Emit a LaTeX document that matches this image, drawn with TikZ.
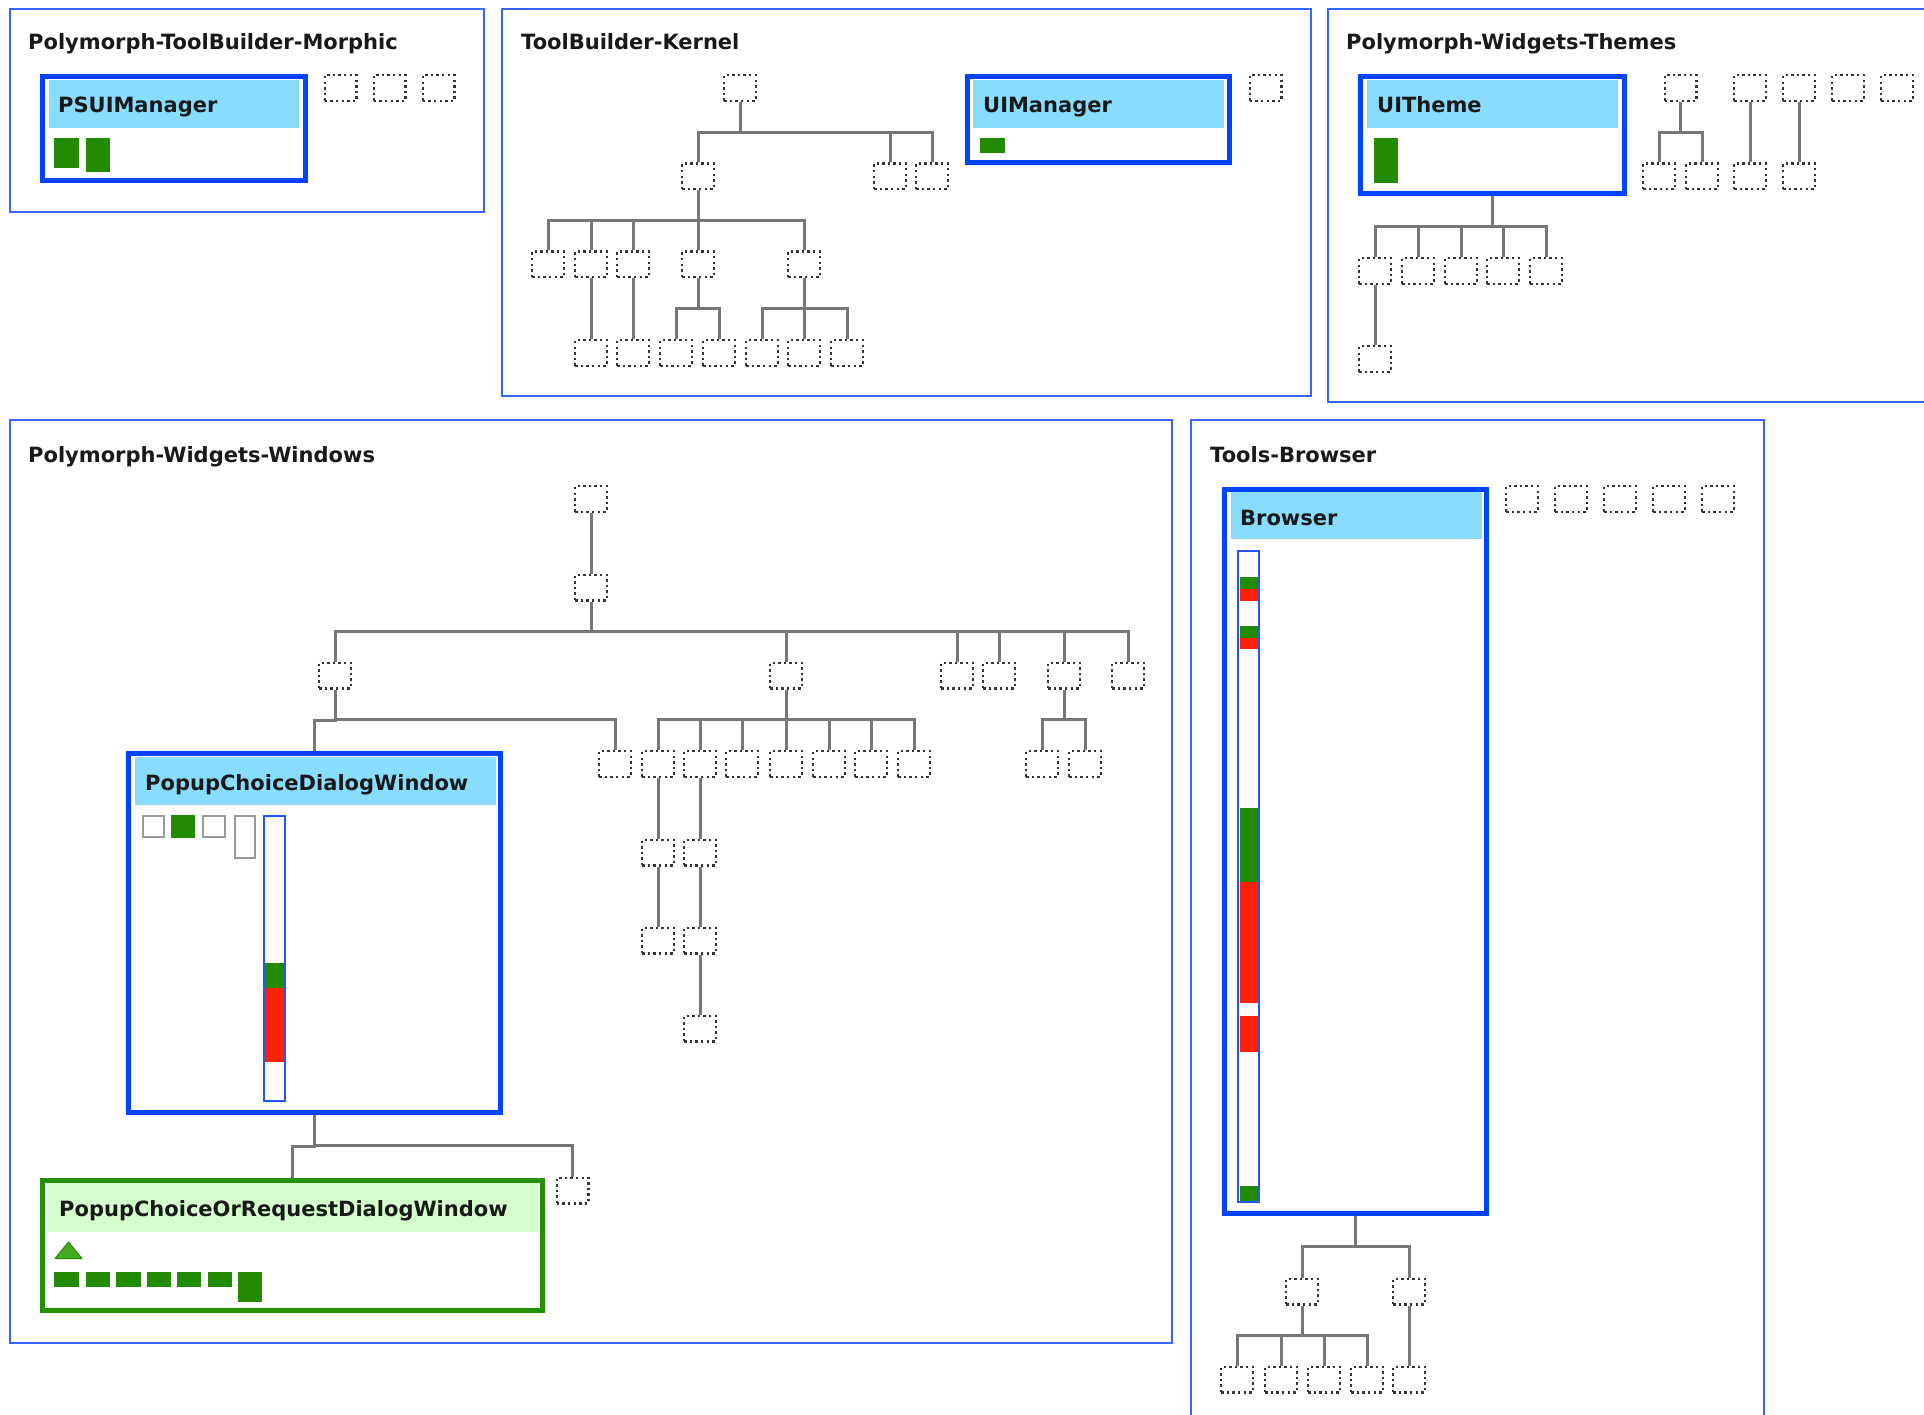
\documentclass[tikz,border=0pt]{standalone}
\usepackage{fontspec}
\newfontfamily\lblfont{DejaVu Sans}
\usetikzlibrary{calc}
\definecolor{pkgblue}{HTML}{3366FF}
\definecolor{clsblue}{HTML}{0044FF}
\definecolor{hdrblue}{HTML}{88DDFF}
\definecolor{grn}{HTML}{228B00}
\definecolor{rd}{HTML}{FF2200}
\definecolor{hdrgreen}{HTML}{D4FFCC}
\definecolor{grnbord}{HTML}{239100}
\definecolor{trifill}{HTML}{44AA22}
\definecolor{treegray}{HTML}{777777}
\definecolor{dotgray}{HTML}{333333}
\definecolor{boxgray}{HTML}{9A9A9A}
\definecolor{sbblue}{HTML}{2255FF}
\newcommand\tconn[2]{\draw[tree] (#1.south) to[orth] (#2.north);}
\begin{document}
\begin{tikzpicture}[x=1pt,y=-1pt,
  pkg/.style={draw=pkgblue,line width=2.5pt},
  cls/.style={draw=clsblue,line width=5pt,fill=white,inner sep=0pt},
  gcls/.style={draw=grnbord,line width=5pt,fill=white,inner sep=0pt},
  lbl/.style={font=\lblfont\bfseries\fontsize{21}{25}\selectfont,text=black!90,inner sep=0pt},
  dsq/.style={draw=dotgray,line width=2.4pt,dash pattern=on 2.4pt off 3.2pt,minimum width=31.6pt,minimum height=25.6pt,inner sep=0pt},
  tree/.style={draw=treegray,line width=3pt},
  orth/.style={to path={(\tikztostart) |- ($(\tikztostart)!0.5!(\tikztotarget)$) -| (\tikztotarget)}},
  gbox/.style={draw=boxgray,line width=2pt,fill=white},
  sbar/.style={draw=sbblue,line width=2pt,fill=white}
]
\useasboundingbox (0,0) rectangle (1924,1415);
\fill[white] (0,0) rectangle (1924,1415);

% ---------- containers ----------
\draw[pkg] (10,9) rectangle (484,212);
\draw[pkg] (502,9) rectangle (1311,396);
\draw[pkg] (1328,9) rectangle (1940,402);
\draw[pkg] (10,420) rectangle (1172,1343);
\draw[pkg] (1191,420) rectangle (1764,1440);

\node[lbl,anchor=base west] (t1) at (28,50) {Polymorph-ToolBuilder-Morphic};
\node[lbl,anchor=base west] (t2) at (521,50) {ToolBuilder-Kernel};
\node[lbl,anchor=base west] (t3) at (1346,50) {Polymorph-Widgets-Themes};
\node[lbl,anchor=base west] (t4) at (28,462) {Polymorph-Widgets-Windows};
\node[lbl,anchor=base west] (t5) at (1210,462) {Tools-Browser};

% ---------- Polymorph-ToolBuilder-Morphic ----------
\node[cls,minimum width=263pt,minimum height=104pt] (psui) at (174,128.5) {};
\fill[hdrblue] (49,80) rectangle (299,128);
\node[lbl,anchor=base west] (psuiT) at (58,113) {PSUIManager};
\fill[grn] (54,138) rectangle (79,168);
\fill[grn] (86,138) rectangle (110,172);
\node[dsq] (m1) at (340.5,88) {};
\node[dsq] (m2) at (389.5,88) {};
\node[dsq] (m3) at (438.5,88) {};

% ---------- ToolBuilder-Kernel ----------
\node[dsq] (k0) at (740,88) {};
\node[dsq] (k1) at (698,176.5) {};
\node[dsq] (k2) at (890,176.5) {};
\node[dsq] (k3) at (932,176.5) {};
\node[dsq] (d1) at (548,264.5) {};
\node[dsq] (d2) at (591,264.5) {};
\node[dsq] (d3) at (633,264.5) {};
\node[dsq] (d4) at (698,264.5) {};
\node[dsq] (d5) at (804,264.5) {};
\node[dsq] (e1) at (591,353) {};
\node[dsq] (e2) at (633,353) {};
\node[dsq] (e3) at (676,353) {};
\node[dsq] (e4) at (719,353) {};
\node[dsq] (e5) at (762,353) {};
\node[dsq] (e6) at (804,353) {};
\node[dsq] (e7) at (847,353) {};
\node[dsq] (k4) at (1265.5,88) {};
\tconn{k0}{k1}\tconn{k0}{k2}\tconn{k0}{k3}
\tconn{k1}{d1}\tconn{k1}{d2}\tconn{k1}{d3}\tconn{k1}{d4}\tconn{k1}{d5}
\tconn{d2}{e1}\tconn{d3}{e2}
\tconn{d4}{e3}\tconn{d4}{e4}
\tconn{d5}{e5}\tconn{d5}{e6}\tconn{d5}{e7}

\node[cls,minimum width=262pt,minimum height=86pt] (uim) at (1098.5,119.5) {};
\fill[hdrblue] (973,80) rectangle (1224,128);
\node[lbl,anchor=base west] (uimT) at (983,113) {UIManager};
\fill[grn] (980,138) rectangle (1005,153);

% ---------- Polymorph-Widgets-Themes ----------
\node[cls,minimum width=264pt,minimum height=117pt] (uit) at (1492.5,135) {};
\fill[hdrblue] (1367,80) rectangle (1618,128);
\node[lbl,anchor=base west] (uitT) at (1377,113) {UITheme};
\fill[grn] (1374,138) rectangle (1398,183);
\node[dsq] (u1) at (1375,271) {};
\node[dsq] (u2) at (1418,271) {};
\node[dsq] (u3) at (1461,271) {};
\node[dsq] (u4) at (1503,271) {};
\node[dsq] (u5) at (1546,271) {};
\node[dsq] (u6) at (1375,359) {};
\tconn{uit}{u1}\tconn{uit}{u2}\tconn{uit}{u3}\tconn{uit}{u4}\tconn{uit}{u5}
\tconn{u1}{u6}
\node[dsq] (s1) at (1680.5,88) {};
\node[dsq] (s1a) at (1659,176.5) {};
\node[dsq] (s1b) at (1702,176.5) {};
\node[dsq] (s2) at (1750,88) {};
\node[dsq] (s2a) at (1750,176.5) {};
\node[dsq] (s3) at (1799,88) {};
\node[dsq] (s3a) at (1799,176.5) {};
\node[dsq] (s4) at (1848,88) {};
\node[dsq] (s5) at (1897,88) {};
\tconn{s1}{s1a}\tconn{s1}{s1b}\tconn{s2}{s2a}\tconn{s3}{s3a}

% ---------- Polymorph-Widgets-Windows ----------
\node[dsq] (p0) at (591,499) {};
\node[dsq] (p1) at (591,587.5) {};
\node[dsq] (w1) at (335,675.5) {};
\node[dsq] (w2) at (786,675.5) {};
\node[dsq] (w3) at (957,675.5) {};
\node[dsq] (w4) at (999,675.5) {};
\node[dsq] (w5) at (1064,675.5) {};
\node[dsq] (w6) at (1128,675.5) {};
\tconn{p0}{p1}
\tconn{p1}{w1}\tconn{p1}{w2}\tconn{p1}{w3}\tconn{p1}{w4}\tconn{p1}{w5}\tconn{p1}{w6}
\node[dsq] (x1) at (615,764) {};
\node[dsq] (y1) at (658,764) {};
\node[dsq] (y2) at (700,764) {};
\node[dsq] (y3) at (742,764) {};
\node[dsq] (y4) at (786,764) {};
\node[dsq] (y5) at (829,764) {};
\node[dsq] (y6) at (871,764) {};
\node[dsq] (y7) at (914,764) {};
\node[dsq] (z1) at (1042,764) {};
\node[dsq] (z2) at (1085,764) {};
\node[dsq] (y1a) at (658,852.5) {};
\node[dsq] (y1b) at (658,940.5) {};
\node[dsq] (y2a) at (700,852.5) {};
\node[dsq] (y2b) at (700,940.5) {};
\node[dsq] (y2c) at (700,1028.5) {};
\tconn{w2}{y1}\tconn{w2}{y2}\tconn{w2}{y3}\tconn{w2}{y4}\tconn{w2}{y5}\tconn{w2}{y6}\tconn{w2}{y7}
\tconn{w5}{z1}\tconn{w5}{z2}
\tconn{y1}{y1a}\tconn{y1a}{y1b}
\tconn{y2}{y2a}\tconn{y2a}{y2b}\tconn{y2b}{y2c}

\node[cls,minimum width=372pt,minimum height=359pt] (pcd) at (314.5,933) {};
\fill[hdrblue] (135,757) rectangle (496,805);
\node[lbl,anchor=base west] (pcdT) at (145,790) {PopupChoiceDialogWindow};
\draw[gbox] (143,816) rectangle (164,837);
\fill[grn] (171,815) rectangle (195,838);
\draw[gbox] (203,816) rectangle (225,837);
\draw[gbox] (235,816) rectangle (255,858);
\draw[sbar] (264,816) rectangle (285,1101);
\fill[grn] (265,963) rectangle (284,988);
\fill[rd] (265,988) rectangle (284,1062);
\tconn{w1}{pcd}\tconn{w1}{x1}

\node[gcls,minimum width=500pt,minimum height=130pt] (pcor) at (292.5,1245.5) {};
\fill[hdrgreen] (48,1183) rectangle (538,1232);
\node[lbl,anchor=base west] (pcorT) at (59,1216) {PopupChoiceOrRequestDialogWindow};
\filldraw[fill=trifill,draw=grn,line width=1pt,line join=round] (55,1258.5) -- (82,1258.5) -- (68.5,1242) -- cycle;
\fill[grn] (54,1272) rectangle (79,1287);
\fill[grn] (86,1272) rectangle (110,1287);
\fill[grn] (116,1272) rectangle (141,1287);
\fill[grn] (147,1272) rectangle (171,1287);
\fill[grn] (177,1272) rectangle (201,1287);
\fill[grn] (208,1272) rectangle (232,1287);
\fill[grn] (238,1272) rectangle (262,1302);
\node[dsq] (x4) at (572.5,1190.5) {};
\tconn{pcd}{pcor}\tconn{pcd}{x4}

% ---------- Tools-Browser ----------
\node[cls,minimum width=262pt,minimum height=724pt] (brw) at (1355.5,851.5) {};
\fill[hdrblue] (1231,492) rectangle (1482,539);
\node[lbl,anchor=base west] (brwT) at (1240,525) {Browser};
\draw[sbar] (1238,551) rectangle (1259,1202);
\fill[grn] (1239.5,577) rectangle (1257.5,589);
\fill[rd] (1239.5,589) rectangle (1257.5,601);
\fill[grn] (1239.5,626) rectangle (1257.5,638);
\fill[rd] (1239.5,638) rectangle (1257.5,649);
\fill[grn] (1239.5,808) rectangle (1257.5,882);
\fill[rd] (1239.5,882) rectangle (1257.5,1003);
\fill[rd] (1239.5,1016) rectangle (1257.5,1052);
\fill[grn] (1239.5,1186) rectangle (1257.5,1201);
\node[dsq] (r1) at (1522,499) {};
\node[dsq] (r2) at (1571,499) {};
\node[dsq] (r3) at (1620,499) {};
\node[dsq] (r4) at (1669,499) {};
\node[dsq] (r5) at (1718,499) {};
\node[dsq] (b1) at (1302,1291.5) {};
\node[dsq] (b2) at (1409,1291.5) {};
\node[dsq] (c1) at (1237,1379.5) {};
\node[dsq] (c2) at (1281,1379.5) {};
\node[dsq] (c3) at (1324,1379.5) {};
\node[dsq] (c4) at (1367,1379.5) {};
\node[dsq] (c5) at (1409,1379.5) {};
\tconn{brw}{b1}\tconn{brw}{b2}
\tconn{b1}{c1}\tconn{b1}{c2}\tconn{b1}{c3}\tconn{b1}{c4}\tconn{b2}{c5}
\end{tikzpicture}
\end{document}
